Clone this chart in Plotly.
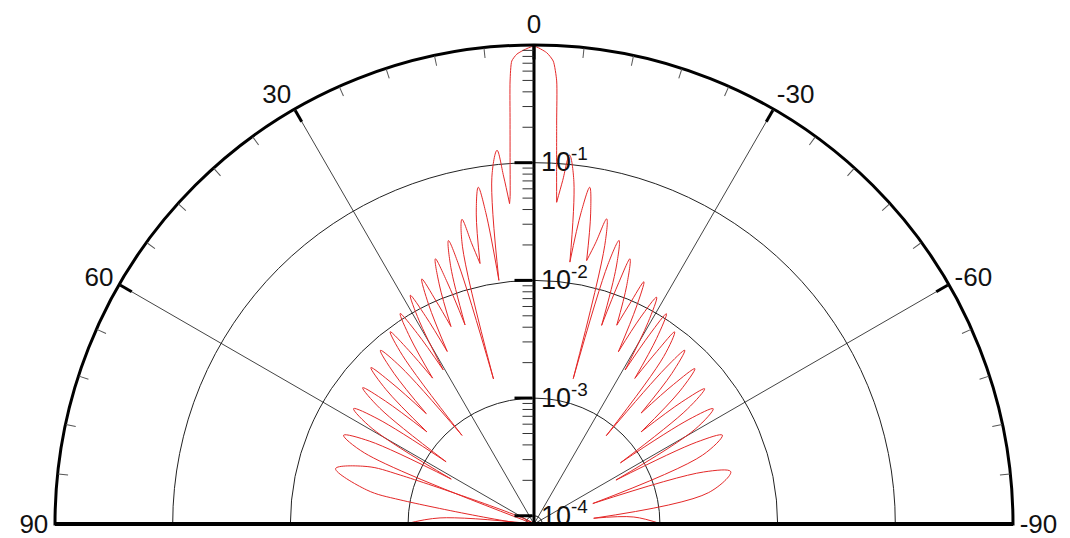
import plotly.graph_objects as go

# ---------------- data ----------------
# theta in degrees (positive = left side), r = amplitude on the log radial axis
main_theta = [-3.67, -3.22, -2.93, -2.38, -1.54, 0.0, 1.29, 2.1, 2.75, 3.09, 3.40, 3.77, 4.17]
main_r = [0.0851, 0.229, 0.501, 0.736, 0.863, 0.977, 0.904, 0.84, 0.738, 0.501, 0.229, 0.105, 0.0525]

left_theta = [4.36, 5.0, 5.65, 6.93, 8.2, 8.8, 9.4, 10.55, 11.7, 12.5, 13.3, 14.45,
              15.6, 16.2, 16.8, 17.95, 19.1, 19.75, 20.4, 21.6, 22.8, 23.7, 24.6, 25.65,
              26.7, 27.55, 28.4, 29.45, 30.5, 31.48, 32.45, 33.63, 34.8, 35.8, 36.8, 37.95,
              39.1, 40.3, 41.5, 42.9, 44.3, 45.25, 46.2, 47.75, 49.3, 50.4, 51.5, 53.1,
              54.7, 56.05, 57.4, 59.45, 61.5, 63.25, 65.0, 67.25,
              69.5, 69.9, 71.0, 74.4, 78.5, 79.8, 81.5, 86.3, 90.0]
left_r = [0.0457, 0.079, 0.132, 0.079, 0.0105, 0.0406, 0.0676, 0.0406,
          0.0155, 0.0233, 0.0389, 0.0233, 0.00162, 0.0167, 0.0279, 0.0167,
          0.00525, 0.013, 0.0216, 0.013, 0.00562, 0.00996, 0.0166, 0.00996,
          0.00372, 0.00828, 0.0138, 0.00828, 0.00282, 0.00672, 0.0112, 0.00672,
          0.00275, 0.0056, 0.00933, 0.0056, 0.000794, 0.00476, 0.00794, 0.00476,
          0.00174, 0.00425, 0.00708, 0.00425, 0.00135, 0.0037, 0.00617, 0.0037,
          0.0007, 0.00337, 0.00562, 0.00337, 0.000537, 0.00311, 0.00519, 0.00311,
          8.5e-5, 0.00138, 0.00269, 0.00479, 0.0024, 0.0012, 8.5e-5, 0.000537, 0.00105]

right_theta = [-4.03, -4.77, -5.5, -6.65, -7.8, -8.6, -9.4, -10.35, -11.3, -12.35, -13.4, -14.25,
               -15.1, -15.9, -16.7, -17.75, -18.8, -19.35, -19.9, -21.25, -22.6, -23.5, -24.4,
               -25.25, -26.1, -27.25, -28.4, -29.5, -30.6, -31.4, -32.2, -33.45, -34.7, -35.45,
               -36.2, -37.75, -39.3, -40.13, -40.95, -42.48, -44.0, -45.0, -46.0, -47.65,
               -49.3, -50.45, -51.6, -53.15, -54.7, -55.98, -57.25, -59.53, -61.8, -63.28,
               -64.75, -67.78, -70.8, -72.95, -75.1, -79.8, -84.5, -86.0, -90.0]
right_r = [0.0468, 0.072, 0.12, 0.072, 0.015, 0.0406, 0.0676, 0.0406, 0.0163, 0.0236, 0.0394,
           0.0236, 0.00162, 0.0167, 0.0279, 0.0167, 0.00516, 0.0127, 0.0212, 0.0127,
           0.00575, 0.0093, 0.0155, 0.0093, 0.00363, 0.0079, 0.0132, 0.0079,
           0.00282, 0.0066, 0.011, 0.0066, 0.00272, 0.00538, 0.00897, 0.00538,
           0.000794, 0.0046, 0.00767, 0.0046, 0.00174, 0.00406, 0.00676, 0.00406,
           0.00135, 0.00362, 0.00603, 0.00362, 0.000676, 0.0033, 0.0055, 0.0033,
           0.000525, 0.003, 0.00501, 0.003, 0.000288, 0.00274, 0.00457, 0.00274,
           0.000275, 0.000603, 0.00103]

ang_major = [-90, -60, -30, 0, 30, 60, 90]
ang_labels = ['-90', '-60', '-30', '0', '30', '60', '90']
ang_minor = [-84, -78, -72, -66, -54, -48, -42, -36, -24, -18, -12, -6,
             6, 12, 18, 24, 36, 42, 48, 54, 66, 72, 78, 84]
rad_major = [1e-4, 1e-3, 1e-2, 1e-1]
rad_labels = ['10<sup>-4</sup>', '10<sup>-3</sup>', '10<sup>-2</sup>', '10<sup>-1</sup>']
rad_minor = [k * 10.0 ** e for e in (-4, -3, -2, -1) for k in range(2, 10)]
r_min = 8.5e-5   # radial value at the centre of the plot

# ---------------- build the side-lobe curve (split into lobes at the minima) ----------------
th = right_theta[::-1] + left_theta
rr = right_r[::-1] + left_r
n_right = len(right_theta)
seg_t, seg_r = [], []
for i, (t, r) in enumerate(zip(th, rr)):
    if i == n_right:           # main lobe sits between the two sides
        seg_t.append(None)
        seg_r.append(None)
    seg_t.append(t)
    seg_r.append(r)
    if 0 < i < len(th) - 1 and i != n_right - 1 and i != n_right \
            and r < rr[i - 1] and r < rr[i + 1]:
        seg_t += [None, t]
        seg_r += [None, r]

main_t = [right_theta[0]] + main_theta + [left_theta[0]]
main_rr = [right_r[0]] + main_r + [left_r[0]]

RED = 'rgb(228,40,40)'
fig = go.Figure()
fig.add_trace(go.Scatterpolar(
    r=seg_r, theta=seg_t, mode='lines', subplot='polar',
    line=dict(color=RED, width=1, shape='spline', smoothing=1.0),
    connectgaps=False, hoverinfo='skip'))
fig.add_trace(go.Scatterpolar(
    r=main_rr, theta=main_t, mode='lines', subplot='polar',
    line=dict(color=RED, width=1, shape='spline', smoothing=0.6), hoverinfo='skip'))
for sp in ('polar2', 'polar3', 'polar4'):
    fig.add_trace(go.Scatterpolar(r=[r_min], theta=[0], mode='markers', subplot=sp,
                                  marker=dict(opacity=0), hoverinfo='skip'))

FONT = 'Liberation Sans, Arial, sans-serif'
DOM = dict(x=[0, 1], y=[0, 1])
ang_common = dict(rotation=90, direction='counterclockwise')
hidden_ang = dict(ang_common, showline=False, ticks='', showticklabels=False, showgrid=False)

fig.update_layout(
    width=1062, height=530, showlegend=False,
    paper_bgcolor='white',
    margin=dict(l=46, r=56, t=37, b=14),
    polar=dict(
        domain=DOM, sector=[0, 180], bgcolor='white',
        angularaxis=dict(ang_common, tickvals=ang_major, ticktext=ang_labels,
                         ticks='inside', ticklen=13, tickwidth=3, tickcolor='black',
                         showline=True, linewidth=3, linecolor='black',
                         showgrid=True, gridcolor='#444', gridwidth=1,
                         tickfont=dict(size=26, family=FONT, color='#111')),
        radialaxis=dict(type='log', range=[-4.07, 0], angle=90, side='clockwise',
                        tickvals=rad_major, ticktext=rad_labels, tickangle=90,
                        ticks='inside', ticklen=18, tickwidth=3, tickcolor='black',
                        showline=True, linewidth=3, linecolor='black',
                        showgrid=True, gridcolor='#222', gridwidth=1,
                        tickfont=dict(size=27, family=FONT, color='#111'))),
    polar2=dict(
        domain=DOM, sector=[0, 180], bgcolor='rgba(0,0,0,0)',
        angularaxis=dict(ang_common, tickvals=ang_minor, ticks='inside', ticklen=10,
                         tickwidth=1, tickcolor='#555', showticklabels=False,
                         showline=False, showgrid=False),
        radialaxis=dict(type='log', range=[-4.07, 0], angle=90, side='clockwise',
                        tickvals=rad_minor, ticks='inside', ticklen=11, tickwidth=1,
                        tickcolor='#333', showticklabels=False, showline=False,
                        showgrid=False)),
    polar3=dict(
        domain=DOM, sector=[0, 180], bgcolor='rgba(0,0,0,0)', angularaxis=hidden_ang,
        radialaxis=dict(type='log', range=[-4.07, 0], angle=180, showline=True,
                        linewidth=4, linecolor='black', ticks='', showticklabels=False,
                        showgrid=False)),
    polar4=dict(
        domain=DOM, sector=[0, 180], bgcolor='rgba(0,0,0,0)', angularaxis=hidden_ang,
        radialaxis=dict(type='log', range=[-4.07, 0], angle=0, showline=True,
                        linewidth=4, linecolor='black', ticks='', showticklabels=False,
                        showgrid=False)),
)

fig.write_html('out.html')
